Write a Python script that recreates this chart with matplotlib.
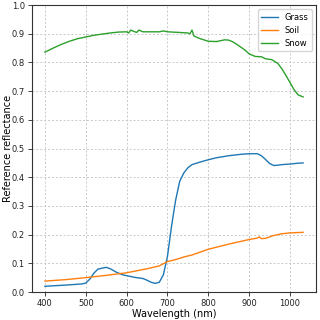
import matplotlib
matplotlib.use("Agg")
import matplotlib.pyplot as plt

grass_wl = [400, 450, 490, 500, 510, 520, 530, 550, 560, 575, 590, 600, 620, 640, 650, 660, 670, 680, 690, 700,
            710, 720, 730, 740, 750, 760, 780, 800, 820, 850, 880, 900, 920, 930, 940, 950, 960, 970, 980, 1000,
            1020, 1032]
grass = [0.020, 0.024, 0.028, 0.031, 0.045, 0.066, 0.080, 0.086, 0.081, 0.069, 0.060, 0.057, 0.051, 0.047, 0.041,
         0.034, 0.030, 0.034, 0.060, 0.124, 0.230, 0.320, 0.386, 0.415, 0.433, 0.444, 0.453, 0.461, 0.468, 0.475,
         0.480, 0.482, 0.482, 0.475, 0.462, 0.448, 0.441, 0.442, 0.444, 0.446, 0.449, 0.450]

soil_wl = [400, 450, 500, 550, 600, 650, 680, 700, 720, 740, 760, 800, 850, 900, 920, 925, 930, 940, 960, 980, 1000, 1032]
soil = [0.038, 0.043, 0.050, 0.058, 0.067, 0.081, 0.091, 0.106, 0.113, 0.122, 0.129, 0.149, 0.167, 0.183, 0.188,
        0.192, 0.186, 0.187, 0.197, 0.203, 0.206, 0.208]

snow_wl = [400, 420, 440, 460, 480, 500, 520, 540, 560, 580, 600, 605, 610, 620, 625, 630, 640, 680, 690, 700, 750,
           755, 760, 765, 780, 800, 820, 840, 850, 860, 870, 880, 890, 900, 915, 930, 940, 955, 970, 980, 990, 1000,
           1010, 1020, 1032]
snow = [0.836, 0.850, 0.863, 0.874, 0.883, 0.889, 0.895, 0.899, 0.903, 0.906, 0.907, 0.903, 0.913, 0.907, 0.905,
        0.913, 0.907, 0.907, 0.910, 0.907, 0.903, 0.900, 0.913, 0.892, 0.883, 0.874, 0.873, 0.879, 0.878, 0.872,
        0.863, 0.853, 0.843, 0.830, 0.821, 0.820, 0.813, 0.810, 0.797, 0.778, 0.755, 0.730, 0.705, 0.687, 0.680]

plt.rcParams['font.size'] = 6
fig = plt.figure(figsize=(3.2, 3.2), dpi=100)
ax = fig.add_axes([0.1, 0.0875, 0.8875, 0.8965])
ax.plot(grass_wl, grass, label="Grass", color="#1f77b4", lw=1.0)
ax.plot(soil_wl, soil, label="Soil", color="#ff7f0e", lw=1.0)
ax.plot(snow_wl, snow, label="Snow", color="#2ca02c", lw=1.0)
ax.set_ylim(0, 1.0)
ax.set_xticks([400, 500, 600, 700, 800, 900, 1000])
ax.set_yticks([0, 0.1, 0.2, 0.3, 0.4, 0.5, 0.6, 0.7, 0.8, 0.9, 1.0])
ax.tick_params(length=3, width=0.6, pad=2, colors="#222222")
for s in ax.spines.values():
    s.set_linewidth(0.8)
    s.set_color("#333333")
ax.grid(True, linestyle=(0, (2, 2)), color="#c8c8c8", lw=0.7)
ax.set_xlabel("Wavelength (nm)", fontsize=7, labelpad=1)
ax.set_ylabel("Reference reflectance", fontsize=7)
ax.yaxis.set_label_coords(-0.068, 0.5)
ax.legend(loc="upper right", fontsize=6)
fig.savefig("out.png", dpi=100)
